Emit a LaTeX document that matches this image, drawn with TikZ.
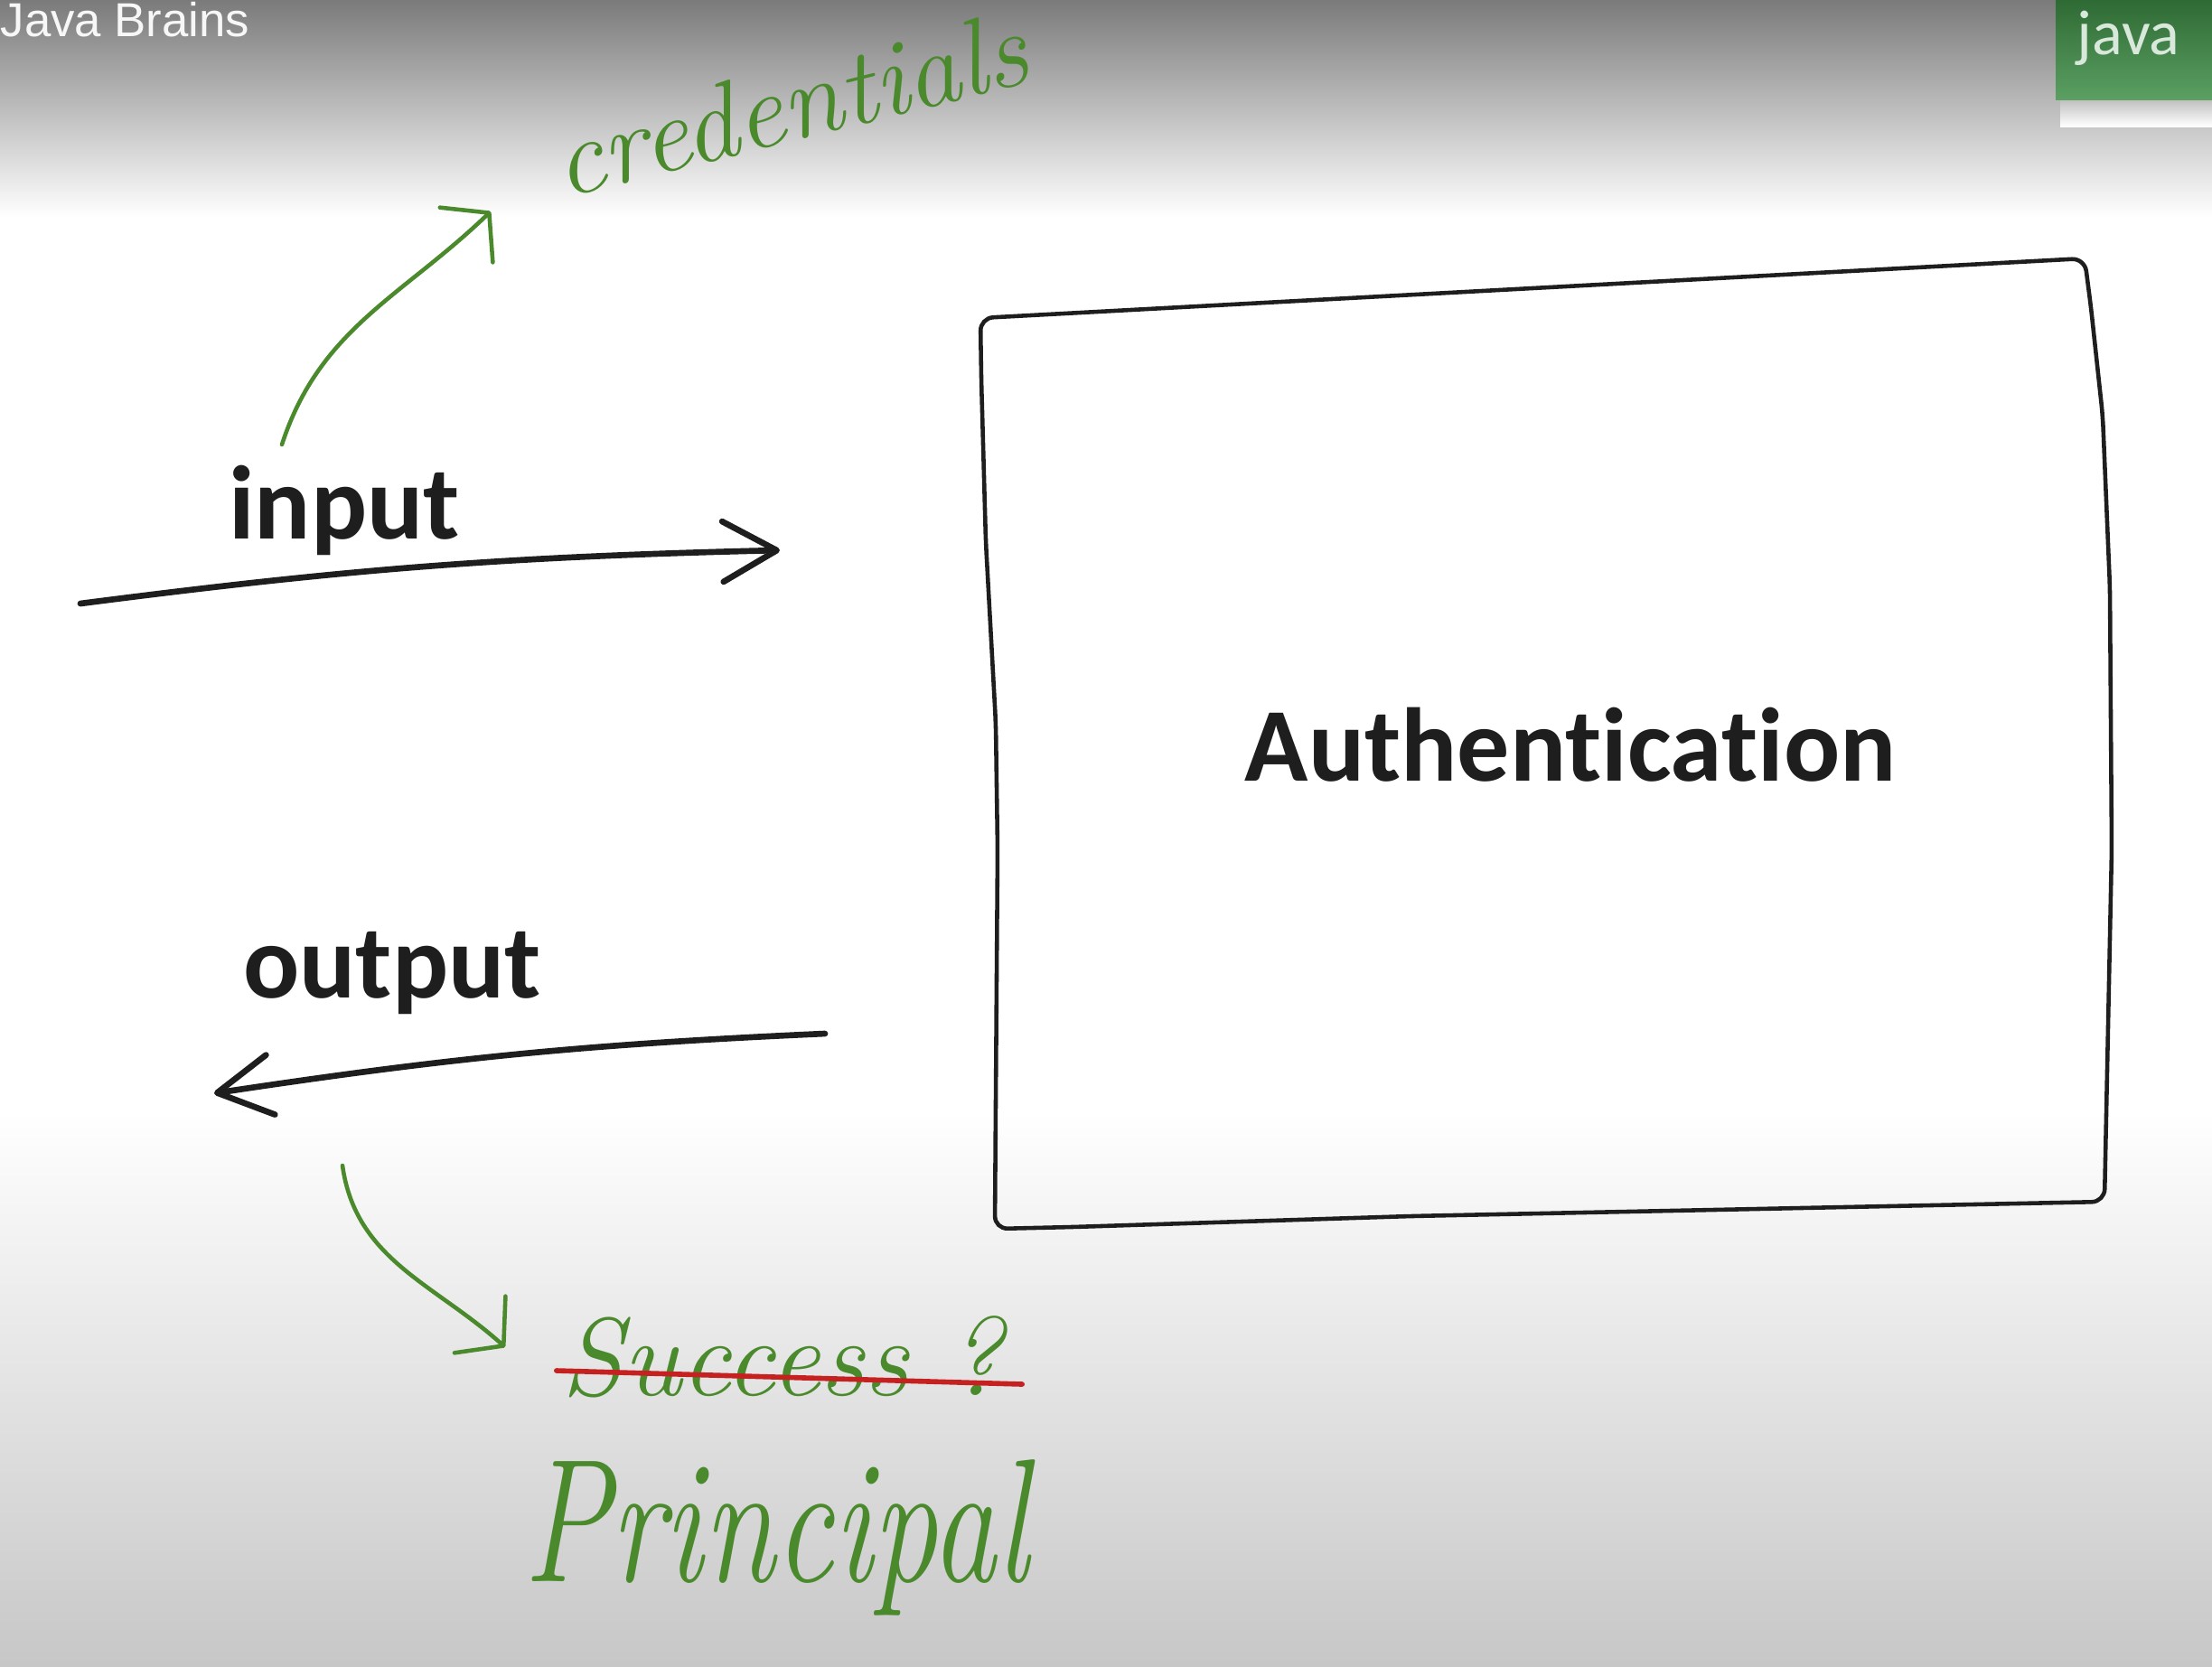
\documentclass[tikz,border=0pt]{standalone}
\usepackage{fontspec}
\usepackage{graphicx}
\newfontfamily\calib[Ligatures=NoCommon]{Carlito}
\newfontfamily\bannerfont{Liberation Sans}
\usepackage{xcolor}
\definecolor{inkblack}{HTML}{1E1E1E}
\definecolor{pengreen}{HTML}{4A8A2C}
\definecolor{penred}{HTML}{C62121}
\definecolor{badgegreen}{HTML}{3E8E46}
\usepackage{tikz}
\usetikzlibrary{arrows.meta, positioning, calc}

\begin{document}
\begin{tikzpicture}[
    word/.style={font=\calib\bfseries\fontsize{33}{40}\selectfont, text=inkblack, inner sep=0pt},
    hand/.style={font=\itshape\fontsize{34}{40}\selectfont, text=pengreen, inner sep=0pt},
    flow/.style={draw=inkblack, line width=1.9pt, line cap=round,
                 -{Straight Barb[length=17pt, width=19pt, round]}},
    note/.style={draw=pengreen, line width=1.3pt, line cap=round,
                 -{Straight Barb[length=10pt, width=24pt, round]}}
]

% ── Background ──
\useasboundingbox (0,0) rectangle (24.48,-18.44);
\fill[white] (0,0) rectangle (24.48,-18.44);
\shade[top color=black!52, bottom color=white] (0,0) rectangle (24.48,-2.4);
\shade[top color=white, bottom color=black!22] (0,-12.3) rectangle (24.48,-18.44);

% ── Video overlay ──
\node[anchor=north west, inner sep=0pt, font=\bannerfont\fontsize{15}{18}\selectfont,
      text=white!94!gray] (chan) at (0,-0.02) {Java Brains};
\shade[top color=black!25, bottom color=white] (22.80,-1.10) rectangle (24.48,-1.40);
\shade[top color=badgegreen!75!black, bottom color=badgegreen!85!white] (22.75,0) rectangle (24.48,-1.10);
\node[anchor=base west, inner sep=0pt, font=\calib\fontsize{20}{24}\selectfont,
      text=white!80!badgegreen] (logo) at (22.98,-0.60) {java};

% ── Authentication box ──
\draw[inkblack, line width=1.3pt, rounded corners=4pt]
     (10.85,-3.52) -- (23.07,-2.86) -- (23.14,-3.40) -- (23.27,-4.60) -- (23.35,-6.50)
     -- (23.37,-9.40) -- (23.29,-13.30)
     -- (15.61,-13.46) -- (11.87,-13.58) -- (11.01,-13.60) -- (11.04,-9.40)
     -- (11.02,-8.00) -- (10.91,-6.00) -- (10.86,-4.20) -- cycle;
\node[word] (auth) at (17.38,-8.24) {Authentication};

% ── Input / output ──
\node[word] (inp) at (3.81,-5.65) {input};
\node[word] (outp) at (4.34,-10.77) {output};

\coordinate (inS) at (0.89,-6.68);
\coordinate (inE) at (8.63,-6.09);
\coordinate (outS) at (9.13,-11.44);
\coordinate (outE) at (2.37,-12.10);

\draw[flow] (inS) to[bend left=3] (inE);
\draw[flow] (outS) to[bend right=3] (outE);

% ── Green notes ──
\node[hand, rotate=14] (cred) at (8.74,-1.15) {credentials};
\node[hand, font=\itshape\fontsize{35}{40}\selectfont] (succ) at (8.66,-15.02) {Success ?};
\node[hand, font=\itshape\fontsize{41}{48}\selectfont] (princ) at (8.59,-17.02)
     {\scalebox{1}[1.35]{Principal}};

\coordinate (credS) at (3.12,-4.92);
\coordinate (credE) at (5.43,-2.34);
\coordinate (princS) at (3.79,-12.90);
\coordinate (princE) at (5.59,-14.91);

\draw[note] (credS) to[out=72, in=224] (credE);
\draw[note] (princS) to[out=-82, in=138] (princE);

% strike-out
\draw[penred, line width=1.6pt, line cap=round]
     ([shift={(-0.05,-0.15)}]succ.west) -- ([shift={(0.2,-0.30)}]succ.east);

\end{tikzpicture}
\end{document}
